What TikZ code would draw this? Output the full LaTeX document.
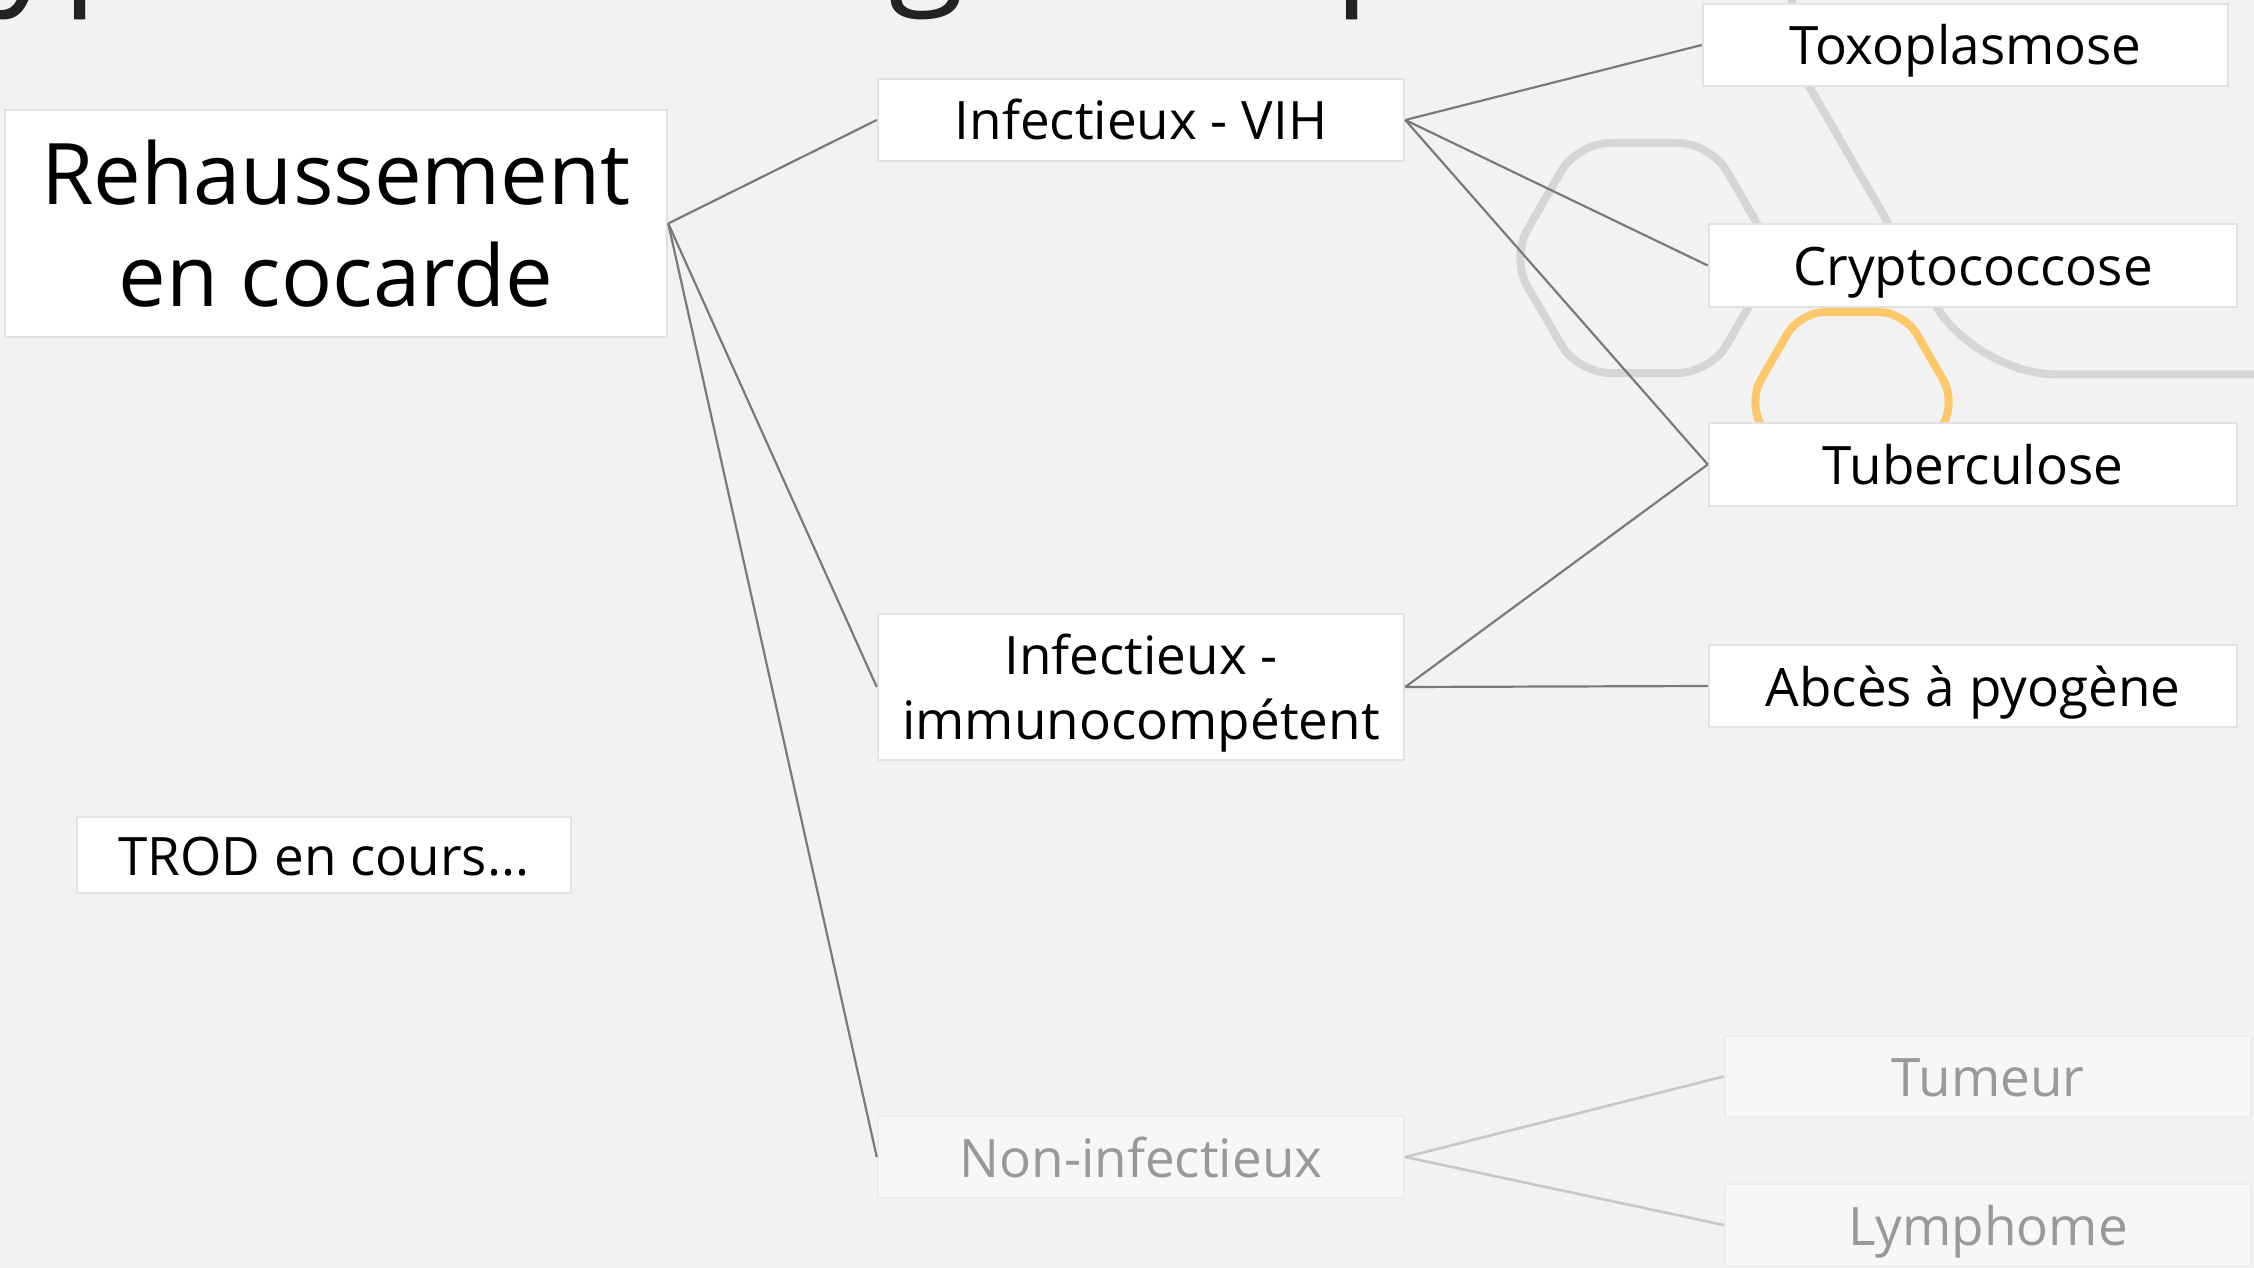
\documentclass[tikz,border=0pt]{standalone}
\usepackage{fontspec}
\setmainfont{Open Sans}
\definecolor{bg}{HTML}{F2F2F2}
\definecolor{boxline}{HTML}{E2E2E2}
\definecolor{fadeline}{HTML}{ECECEC}
\definecolor{fadefill}{HTML}{F7F7F7}
\definecolor{fadetext}{HTML}{999999}
\definecolor{conn}{HTML}{7A7A7A}
\definecolor{fadeconn}{HTML}{C8C8C8}
\definecolor{hexgray}{HTML}{D6D6D6}
\definecolor{hexorange}{HTML}{FDC76A}
\definecolor{titlecol}{HTML}{222222}
\tikzset{
  box/.style={draw=boxline, line width=2.5pt, fill=white, inner sep=0pt,
    align=center, text=black, font=\fontsize{53}{65}\selectfont},
  oneline/.style={text height=40pt, text depth=0pt},
  fadebox/.style={box, draw=fadeline, fill=fadefill, text=fadetext},
  link/.style={draw=conn, line width=2.2pt},
  fadelink/.style={draw=fadeconn, line width=2.6pt},
  hexline/.style={draw=hexgray, line width=8pt},
  hexline2/.style={draw=hexorange, line width=8pt},
}
\begin{document}
\begin{tikzpicture}[x=1pt,y=-1pt]
\useasboundingbox (0,0) rectangle (2254,1268);
\fill[bg] (0,0) rectangle (2254,1268);
% title (cut off at the top)
\node[anchor=base west, inner sep=0pt, text=titlecol, font=\fontsize{139}{160}\selectfont] (title) at (-110,-13) {Hypothèses diagnostiques};
% decorative hexagons
\draw[hexline, rounded corners=80pt] (2183,374.4) -- (2390.5,374.4) -- (2598,15) -- (2390.5,-344.4) -- (1975.5,-344.4) -- (1768,15) -- (1975.5,374.4) -- cycle;
\draw[hexline, rounded corners=32pt] (1644,143) -- (1710.5,143) -- (1777,258) -- (1710.5,373) -- (1577.5,373) -- (1511,258) -- (1577.5,143) -- cycle;
\draw[hexline2, rounded corners=25pt] (1852,312) -- (1904,312) -- (1956,402) -- (1904,492) -- (1800,492) -- (1748,402) -- (1800,312) -- cycle;
% nodes
\node[box, minimum width=662pt, minimum height=227pt, font=\fontsize{85}{102}\selectfont] (reh) at (336,223.5) {Rehaussement\\en cocarde};
\node[box, oneline, minimum width=526pt, minimum height=82pt] (vih) at (1141,120) {Infectieux - VIH};
\node[box, text depth=0pt, minimum width=526pt, minimum height=146pt] (imm) at (1141,687) {Infectieux -\\immunocompétent};
\node[fadebox, oneline, minimum width=526pt, minimum height=82pt] (non) at (1141,1157) {Non-infectieux};
\node[box, oneline, minimum width=525pt, minimum height=82pt] (toxo) at (1965.5,45) {Toxoplasmose};
\node[box, oneline, minimum width=528pt, minimum height=83pt] (crypto) at (1973,265.5) {Cryptococcose};
\node[box, oneline, minimum width=528pt, minimum height=83pt] (tub) at (1973,464.5) {Tuberculose};
\node[box, oneline, minimum width=528pt, minimum height=82pt] (abc) at (1973,686) {Abcès à pyogène};
\node[box, oneline, minimum width=494pt, minimum height=76pt] (trod) at (324,855) {TROD en cours...};
\node[fadebox, oneline, minimum width=526pt, minimum height=81pt] (tum) at (1988,1076.5) {Tumeur};
\node[fadebox, oneline, minimum width=526pt, minimum height=82pt] (lym) at (1988,1225) {Lymphome};
% connectors
\draw[link] (reh.east) -- (vih.west);
\draw[link] (reh.east) -- (imm.west);
\draw[link] (reh.east) -- (non.west);
\draw[link] (vih.east) -- (toxo.west);
\draw[link] (vih.east) -- (crypto.west);
\draw[link] (vih.east) -- (tub.west);
\draw[link] (imm.east) -- (tub.west);
\draw[link] (imm.east) -- (abc.west);
\draw[fadelink] (non.east) -- (tum.west);
\draw[fadelink] (non.east) -- (lym.west);
\end{tikzpicture}
\end{document}
